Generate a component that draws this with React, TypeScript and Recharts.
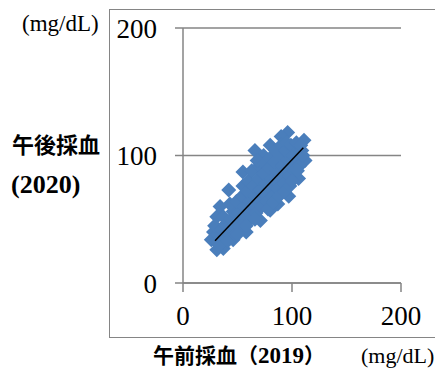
import { ScatterChart, Scatter, XAxis, YAxis, CartesianGrid } from "recharts";

// 午前採血(2019) vs 午後採血(2020), mg/dL
const morning2019 = [
  96, 111, 112, 106, 97, 87, 80, 71, 58, 46, 37, 31, 26, 28, 31, 34, 42, 55, 66, 74, 80, 90,
  30, 32, 29, 33, 35, 38, 39, 37, 40, 41, 45, 44, 46, 47, 43, 50, 51, 49, 52, 50,
  55, 56, 54, 57, 55, 60, 61, 59, 62, 60, 58, 65, 66, 64, 67, 63, 66,
  70, 71, 69, 72, 70, 68, 75, 76, 74, 77, 75, 78, 80, 81, 79, 82, 80, 83,
  85, 86, 84, 87, 85, 88, 90, 91, 89, 92, 90, 93, 95, 96, 94, 97, 95, 98,
  100, 101, 99, 102, 100, 105, 106, 104, 107, 105, 109, 110, 108,
];
const afternoon2020 = [
  118, 112, 96, 82, 68, 62, 57, 49, 40, 34, 27, 26, 34, 40, 52, 60, 73, 87, 104, 100, 108, 115,
  33, 38, 45, 30, 42, 36, 46, 52, 40, 33, 42, 50, 56, 38, 62, 48, 55, 64, 44, 38,
  52, 60, 68, 47, 76, 56, 64, 72, 50, 80, 45, 61, 68, 76, 55, 88, 50,
  66, 73, 82, 60, 92, 96, 70, 78, 86, 64, 94, 58, 75, 82, 90, 68, 98, 63,
  80, 88, 95, 74, 104, 68, 84, 92, 100, 78, 108, 72, 89, 97, 104, 84, 110, 76,
  93, 100, 108, 88, 80, 98, 105, 110, 92, 88, 104, 100, 108,
];
const trendX = [29.4, 110.4];
const trendY = [33.2, 106.1];
const axisTicks = [0, 100, 200];

const points = morning2019.map((x, i) => ({ x, y: afternoon2020[i] }));
const trend = trendX.map((x, i) => ({ x, y: trendY[i] }));

const BLUE = "#4a7ebb";
const GRAY = "#858585";
const SERIF = "Liberation Serif";
const CJK = "Noto Sans CJK JP";

function Diamond(props: any) {
  const { cx, cy } = props;
  const r = 7.5;
  return <path d={`M${cx},${cy - r}L${cx + r},${cy}L${cx},${cy + r}L${cx - r},${cy}Z`} fill={BLUE} />;
}

export default function App() {
  const tick = { fontSize: 27, fill: "#000", fontFamily: SERIF };
  return (
    <div style={{ position: "absolute", left: 0, top: 0, width: 435, height: 372, overflow: "hidden", background: "#fff" }}>
      <div style={{ position: "absolute", left: 109, top: 9, width: 340, height: 327, border: `1.5px solid ${GRAY}` }} />
      <ScatterChart width={435} height={372} margin={{ top: 28, right: 34, bottom: 49, left: 113 }} style={{ position: "absolute", left: 0, top: 0 }}>
        <CartesianGrid vertical={false} stroke={GRAY} strokeWidth={1.5} />
        <XAxis type="number" dataKey="x" domain={[0, 200]} ticks={axisTicks} height={40}
          tick={tick} tickSize={9} tickMargin={14} stroke={GRAY} strokeWidth={1.5} interval={0} />
        <YAxis type="number" dataKey="y" domain={[0, 200]} ticks={axisTicks} width={70}
          tick={tick} tickSize={8} tickMargin={18} stroke={GRAY} strokeWidth={1.5} interval={0} />
        <Scatter data={points} shape={<Diamond />} isAnimationActive={false} />
        <Scatter data={trend} line={{ stroke: "#000", strokeWidth: 1.5 }} shape={() => <g />} isAnimationActive={false} />
      </ScatterChart>
      <div style={{ position: "absolute", left: 22, top: 12, fontFamily: SERIF, fontSize: 23, lineHeight: 1 }}>(mg/dL)</div>
      <div style={{ position: "absolute", left: 12, top: 132, fontFamily: CJK, fontSize: 22, fontWeight: 700, lineHeight: 1 }}>午後採血</div>
      <div style={{ position: "absolute", left: 11, top: 172, fontFamily: SERIF, fontSize: 26, fontWeight: 700, lineHeight: 1 }}>(2020)</div>
      <div style={{ position: "absolute", left: 153, top: 344, display: "flex", alignItems: "baseline", whiteSpace: "nowrap", fontWeight: 700, lineHeight: 1 }}>
        <span style={{ fontFamily: CJK, fontSize: 21 }}>午前採血（</span>
        <span style={{ fontFamily: SERIF, fontSize: 23 }}>2019</span>
        <span style={{ fontFamily: CJK, fontSize: 21 }}>）</span>
      </div>
      <div style={{ position: "absolute", left: 361, top: 345, fontFamily: SERIF, fontSize: 22, lineHeight: 1, whiteSpace: "nowrap" }}>(mg/dL)</div>
    </div>
  );
}
